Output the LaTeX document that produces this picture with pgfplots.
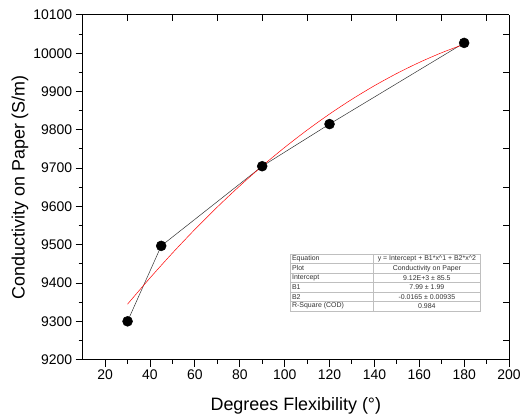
\documentclass[border=0pt]{standalone}
\usepackage{fontspec}
\setmainfont{Liberation Sans}
\usepackage{pgfplots}
\pgfplotsset{compat=1.18}
\begin{document}
\begin{tikzpicture}
\path (-83pt,-58pt) rectangle (441pt,361pt);
\begin{axis}[
  at={(0,0)}, anchor=south west,
  scale only axis, width=428pt, height=346pt,
  xmin=10, xmax=200, ymin=9200, ymax=10100,
  axis x line*=bottom, axis y line*=left,
  axis line style={line width=1pt, black},
  xtick={20,40,...,200}, ytick={9200,9300,...,10100},
  minor x tick num=1, minor y tick num=1,
  tick align=outside,
  major tick length=7pt, minor tick length=4pt,
  every major tick/.append style={line width=1pt, draw=black},
  every minor tick/.append style={line width=1pt, draw=black},
  scaled ticks=false,
  ticklabel style={font=\fontsize{14}{16}\selectfont},
  /pgf/number format/assume math mode=true,
  /pgf/number format/set thousands separator={},
  clip=false,
]
\addplot[black!80, line width=0.5pt, mark=*, mark size=5pt, mark options={solid, fill=black, draw=black}]
  coordinates {(30,9300) (45,9497) (90,9705) (120,9815) (180,10027)};
\addplot[red, line width=0.5pt, smooth] coordinates {
  (30,9344.85) (40,9413.2) (50,9478.25) (60,9540.0) (70,9598.45) (80,9653.6)
  (90,9705.45) (100,9754.0) (110,9799.25) (120,9841.2) (130,9879.85)
  (140,9915.2) (150,9947.25) (160,9976.0) (170,10001.45) (180,10023.6)};
\end{axis}
\begin{axis}[
  at={(0,0)}, anchor=south west,
  scale only axis, width=428pt, height=346pt,
  xmin=10, xmax=200, ymin=9200, ymax=10100,
  axis x line*=top, axis y line*=right,
  axis line style={line width=1pt, black},
  xtick={30,50,...,190}, ytick={9250,9350,...,10050},
  xticklabels={}, yticklabels={},
  tick align=inside,
  major tick length=6pt,
  every major tick/.append style={line width=1pt, draw=black},
  scaled ticks=false,
]
\addplot[draw=none] coordinates {(10,9200)};
\end{axis}
\node[rotate=90, font=\fontsize{18}{21}\selectfont] at (-63pt,173pt) {Conductivity on Paper (S/m)};
\node[font=\fontsize{18}{21}\selectfont] at (214pt,-46pt) {Degrees Flexibility (°)};
% fit table
\begin{scope}[draw=black!25, line width=0.5pt]
  \draw (208pt,49pt) rectangle (399pt,106pt);
  \draw (292pt,49pt) -- (292pt,106pt);
  \foreach \k in {1,...,5} { \draw (208pt,{106pt-\k*9.5pt}) -- (399pt,{106pt-\k*9.5pt}); }
\end{scope}
\begin{scope}[every node/.style={font=\fontsize{7}{8}\selectfont, text=black!80, inner sep=0pt}]
  \node[anchor=west] at (210pt,101.25pt) {Equation};
  \node[anchor=west] at (210pt,91.75pt) {Plot};
  \node[anchor=west] at (210pt,82.25pt) {Intercept};
  \node[anchor=west] at (210pt,72.75pt) {B1};
  \node[anchor=west] at (210pt,63.25pt) {B2};
  \node[anchor=west] at (210pt,53.75pt) {R-Square (COD)};
  \node at (345.5pt,101.25pt) {y = Intercept + B1*x\^{}1 + B2*x\^{}2};
  \node at (345.5pt,91.75pt) {Conductivity on Paper};
  \node at (345.5pt,82.25pt) {9.12E+3 ± 85.5};
  \node at (345.5pt,72.75pt) {7.99 ± 1.99};
  \node at (345.5pt,63.25pt) {-0.0165 ± 0.00935};
  \node at (345.5pt,53.75pt) {0.984};
\end{scope}
\end{tikzpicture}
\end{document}
